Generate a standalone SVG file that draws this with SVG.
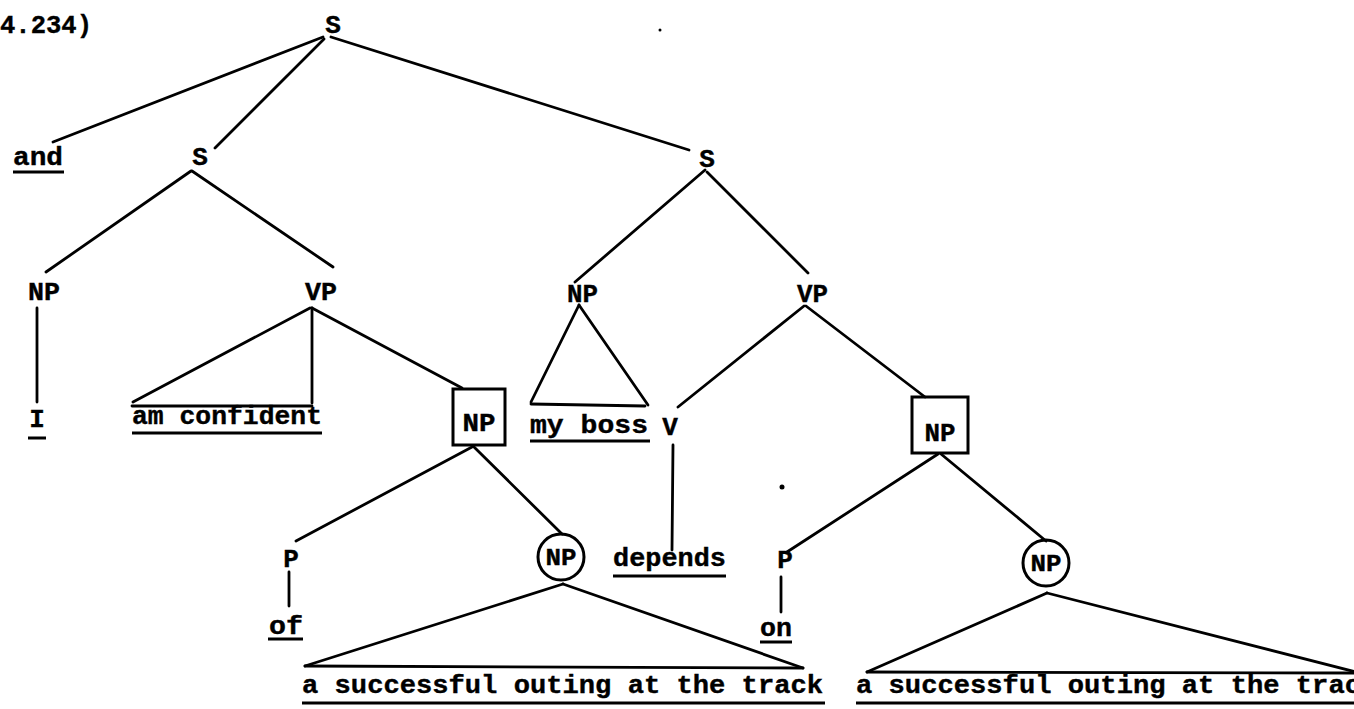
<svg xmlns="http://www.w3.org/2000/svg" width="1354" height="709" viewBox="0 0 1354 709">
<style>
text { font-family: "Liberation Mono", "Courier New", monospace; font-weight: bold; font-size: 26px; fill: #000; stroke: #000; stroke-width: 0.4; }
.c { font-size: 24px; }
.e { stroke: #000; stroke-width: 2.8; fill: none; stroke-linecap: round; }
.u { stroke: #000; stroke-width: 3; }
.box { fill: none; stroke: #000; stroke-width: 3; }
.dot { fill: #000; }
</style>
<rect width="1354" height="709" fill="#fff"/>

<g id="connectors">
  <line class="e" x1="323" y1="37" x2="53" y2="142"/>
  <line class="e" x1="324" y1="39" x2="215" y2="148"/>
  <line class="e" x1="331" y1="37" x2="689" y2="150"/>
  <line class="e" x1="191" y1="171" x2="46" y2="272"/>
  <line class="e" x1="192" y1="171" x2="333" y2="267"/>
  <line class="e" x1="705" y1="170" x2="575" y2="282"/>
  <line class="e" x1="707" y1="172" x2="808" y2="273"/>
  <line class="e" x1="37" y1="308" x2="37" y2="402"/>
  <line class="e" x1="310" y1="308" x2="133" y2="402"/>
  <line class="e" x1="312" y1="308" x2="312" y2="403"/>
  <line class="e" x1="312" y1="308" x2="462" y2="388"/>
  <line class="e" x1="132" y1="406" x2="312" y2="406"/>
  <line class="e" x1="579" y1="305" x2="531" y2="402"/>
  <line class="e" x1="579" y1="305" x2="648" y2="405"/>
  <line class="e" x1="531" y1="404" x2="645" y2="406"/>
  <line class="e" x1="804" y1="306" x2="678" y2="407"/>
  <line class="e" x1="806" y1="306" x2="925" y2="397"/>
  <line class="e" x1="472" y1="447" x2="296" y2="541"/>
  <line class="e" x1="474" y1="447" x2="562" y2="534"/>
  <line class="e" x1="289" y1="572" x2="289" y2="606"/>
  <line class="e" x1="673" y1="445" x2="672" y2="550"/>
  <line class="e" x1="938" y1="454" x2="787" y2="552"/>
  <line class="e" x1="941" y1="454" x2="1046" y2="541"/>
  <line class="e" x1="781" y1="577" x2="781" y2="612"/>
  <line class="e" x1="563" y1="584" x2="305" y2="666"/>
  <line class="e" x1="563" y1="584" x2="803" y2="668"/>
  <line class="e" x1="305" y1="666" x2="803" y2="668"/>
  <line class="e" x1="1047" y1="593" x2="867" y2="672"/>
  <line class="e" x1="1047" y1="593" x2="1356" y2="672"/>
  <line class="e" x1="867" y1="672" x2="1356" y2="673"/>
</g>

<g id="label"><text x="0" y="33" textLength="92" lengthAdjust="spacingAndGlyphs">4.234)</text></g>
<g id="s-root"><text x="333" y="33" text-anchor="middle">S</text></g>
<g id="and"><text x="13" y="165" textLength="50" lengthAdjust="spacingAndGlyphs">and</text><line class="u" x1="13" y1="172" x2="64" y2="172"/></g>
<g id="s-left"><text x="200" y="165" text-anchor="middle">S</text></g>
<g id="s-right"><text x="707" y="167" text-anchor="middle">S</text></g>
<g id="np-left"><text x="28" y="300" textLength="32" lengthAdjust="spacingAndGlyphs">NP</text></g>
<g id="vp-left"><text x="305" y="300" textLength="32" lengthAdjust="spacingAndGlyphs">VP</text></g>
<g id="np-right"><text x="567" y="302" textLength="31" lengthAdjust="spacingAndGlyphs">NP</text></g>
<g id="vp-right"><text x="797" y="302" textLength="31" lengthAdjust="spacingAndGlyphs">VP</text></g>
<g id="i"><text x="37" y="427" text-anchor="middle">I</text><line class="u" x1="28" y1="438" x2="46" y2="438"/></g>
<g id="am-confident"><text x="132" y="424" textLength="190" lengthAdjust="spacingAndGlyphs">am confident</text><line class="u" x1="132" y1="433" x2="322" y2="433"/></g>
<g id="np-box-left"><rect class="box" x="453" y="389" width="52" height="56"/><text x="479" y="431" text-anchor="middle" textLength="33" lengthAdjust="spacingAndGlyphs">NP</text></g>
<g id="my-boss"><text x="530" y="433" textLength="118" lengthAdjust="spacingAndGlyphs">my boss</text><line class="u" x1="530" y1="441" x2="650" y2="441"/></g>
<g id="v"><text x="670" y="435" text-anchor="middle">V</text></g>
<g id="np-box-right"><rect class="box" x="912" y="397" width="56" height="56"/><text x="940" y="441" text-anchor="middle" textLength="31" lengthAdjust="spacingAndGlyphs">NP</text></g>
<g id="p-left"><text x="291" y="567" text-anchor="middle">P</text></g>
<g id="of"><text x="269" y="634" textLength="34" lengthAdjust="spacingAndGlyphs">of</text><line class="u" x1="268" y1="639" x2="303" y2="639"/></g>
<g id="np-circle-left"><circle class="box" cx="561" cy="557" r="23"/><text class="c" x="561" y="565" text-anchor="middle" textLength="31" lengthAdjust="spacingAndGlyphs">NP</text></g>
<g id="depends"><text x="613" y="566" textLength="113" lengthAdjust="spacingAndGlyphs">depends</text><line class="u" x1="613" y1="576" x2="726" y2="576"/></g>
<g id="p-right"><text x="785" y="568" text-anchor="middle">P</text></g>
<g id="on"><text x="760" y="636" textLength="32" lengthAdjust="spacingAndGlyphs">on</text><line class="u" x1="760" y1="642" x2="792" y2="642"/></g>
<g id="np-circle-right"><circle class="box" cx="1046" cy="563" r="23"/><text class="c" x="1046" y="571" text-anchor="middle" textLength="31" lengthAdjust="spacingAndGlyphs">NP</text></g>
<g id="phrase-left"><text x="302" y="693" textLength="521" lengthAdjust="spacingAndGlyphs">a successful outing at the track</text><line class="u" x1="302" y1="703" x2="825" y2="703"/></g>
<g id="phrase-right"><text x="856" y="693" textLength="505" lengthAdjust="spacingAndGlyphs">a successful outing at the trac</text><line class="u" x1="856" y1="703" x2="1354" y2="703"/></g>
<circle class="dot" cx="782" cy="487" r="2.5"/>
<circle class="dot" cx="660" cy="30" r="1.5"/>
</svg>
